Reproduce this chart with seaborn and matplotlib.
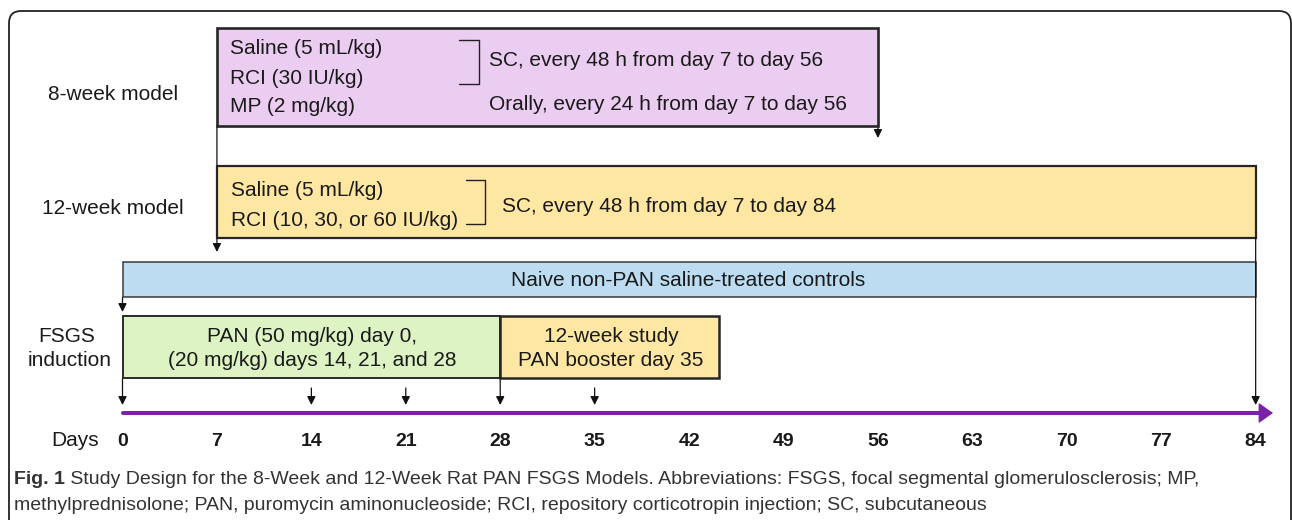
import matplotlib
matplotlib.use('Agg')
import numpy as np
import pandas as pd
import matplotlib.pyplot as plt
import seaborn as sns
from matplotlib.patches import FancyBboxPatch

# --- data ---
phases = ['8-week model', '12-week model', 'Naive controls', 'PAN induction', '12-week booster']
phase_start = [7, 7, 0, 0, 28]
phase_end = [56, 84, 84, 28, 44.2]

dose_days = [0, 14, 21, 28, 35]
dose_long = [True, False, False, True, False]
tick_days = [0, 7, 14, 21, 28, 35, 42, 49, 56, 63, 70, 77, 84]

box_lines = {
    '8-week model': ['Saline (5 mL/kg)', 'RCI (30 IU/kg)', 'MP (2 mg/kg)'],
    '12-week model': ['Saline (5 mL/kg)', 'RCI (10, 30, or 60 IU/kg)'],
}
route_8w = ['SC, every 48 h from day 7 to day 56', 'Orally, every 24 h from day 7 to day 56']
route_12w = 'SC, every 48 h from day 7 to day 84'
controls_label = 'Naive non-PAN saline-treated controls'
pan_label = ['PAN (50 mg/kg) day 0,', '(20 mg/kg) days 14, 21, and 28']
booster_label = ['12-week study', 'PAN booster day 35']
caption_bold = 'Fig. 1'
caption_1 = ' Study Design for the 8-Week and 12-Week Rat PAN FSGS Models. Abbreviations: FSGS, focal segmental glomerulosclerosis; MP,'
caption_2 = 'methylprednisolone; PAN, puromycin aminonucleoside; RCI, repository corticotropin injection; SC, subcutaneous'

df = pd.DataFrame({'phase': phases, 'start': phase_start, 'end': phase_end})

# --- layout (pixel rows, colours) ---
X0 = 122.5   # px of day 0
S = 13.49    # px per day


def dx(px):
    return (px - X0) / S


row_top = [28, 166, 262, 316, 316]
row_bot = [126, 238, 297, 378, 378]
fills = ['#eccdf2', '#fde7a2', '#bcdcf1', '#ddf3c3', '#fde7a2']
edge_w = [1.9, 1.6, 1.1, 1.4, 1.8]
edge_c = ['#262626', '#262626', '#3a3a3a', '#2a2a2a', '#262626']

sns.set_theme(style='white')
plt.rcParams['font.family'] = ['Liberation Sans', 'DejaVu Sans']
txt = '#1a1a1a'
FS = 15

fig = plt.figure(figsize=(12.92, 5.2), dpi=100)
ax = fig.add_axes([0, 0, 1, 1])
ax.set_xlim(dx(0), dx(1292))
ax.set_ylim(520, 0)
ax.axis('off')

# outer frame
frame = FancyBboxPatch((dx(9), 11), dx(1291) - dx(9), 560,
                       boxstyle='round,pad=0,rounding_size=0.9', mutation_aspect=S,
                       fc='none', ec='#222222', lw=1.3)
ax.add_patch(frame)

# boxes
for i, r in df.iterrows():
    ax.barh((row_top[i] + row_bot[i]) / 2, r['end'] - r['start'], left=r['start'],
            height=row_bot[i] - row_top[i], color=fills[i], edgecolor=edge_c[i],
            linewidth=edge_w[i], zorder=3)


def arrow(day, y0, y1, z=2):
    ax.annotate('', xy=(day, y1), xytext=(day, y0), zorder=z,
                arrowprops=dict(arrowstyle='-|>,head_length=0.5,head_width=0.25',
                                mutation_scale=10, color='#111111', lw=0.9,
                                shrinkA=0, shrinkB=0))


arrow(7, 126, 252, z=1)
arrow(56, 126, 138)
arrow(84, 238, 405, z=4)
arrow(0, 297, 312)
for d, lg in zip(dose_days, dose_long):
    arrow(d, 378 if lg else 388, 405)

# timeline
sns.lineplot(x=[0, dx(1262)], y=[413, 413], color='#7b22a8', linewidth=2.9, ax=ax)
ax.annotate('', xy=(dx(1273), 413), xytext=(dx(1255), 413),
            arrowprops=dict(arrowstyle='-|>,head_length=0.45,head_width=0.32',
                            mutation_scale=20, color='#7b22a8', lw=1, shrinkA=0, shrinkB=0))

# texts in 8-week box
for t, y in zip(box_lines['8-week model'], [48, 78, 106]):
    ax.text(dx(230), y, t, fontsize=FS, va='center', ha='left', color=txt, zorder=5)
ax.plot([dx(459), dx(479), dx(479), dx(459)], [40, 40, 84, 84], color='#222222', lw=1.0, zorder=5)
ax.text(dx(489), 60, route_8w[0], fontsize=FS, va='center', ha='left', color=txt, zorder=5)
ax.text(dx(489), 104, route_8w[1], fontsize=FS, va='center', ha='left', color=txt, zorder=5)
ax.text(dx(113), 94, '8-week model', fontsize=FS, va='center', ha='center', color=txt)

# texts in 12-week box
for t, y in zip(box_lines['12-week model'], [190, 220]):
    ax.text(dx(231), y, t, fontsize=FS, va='center', ha='left', color=txt, zorder=5)
ax.plot([dx(466), dx(485), dx(485), dx(466)], [180, 180, 224, 224], color='#222222', lw=1.0, zorder=5)
ax.text(dx(502), 206, route_12w, fontsize=FS, va='center', ha='left', color=txt, zorder=5)
ax.text(dx(113), 208, '12-week model', fontsize=FS, va='center', ha='center', color=txt)

# controls
ax.text(dx(688), 281, controls_label, fontsize=FS, va='center', ha='center', color=txt, zorder=5)

# induction
for t, y in zip(pan_label, [337, 361]):
    ax.text(dx(312), y, t, fontsize=FS, va='center', ha='center', color=txt, zorder=5)
for t, y in zip(booster_label, [337, 361]):
    ax.text(dx(611), y, t, fontsize=FS, va='center', ha='center', color=txt, zorder=5)
ax.text(dx(67), 336, 'FSGS', fontsize=FS, va='center', ha='center', color=txt)
ax.text(dx(70), 361, 'induction', fontsize=FS, va='center', ha='center', color=txt)

# day labels
ax.text(dx(75), 441, 'Days', fontsize=FS, va='center', ha='center', color=txt)
for d in tick_days:
    ax.text(d, 441, str(d), fontsize=14, fontweight='bold', va='center', ha='center', color=txt)

# caption
cap = '#333333'
CFS = 14.0
t1 = ax.text(dx(14), 480, caption_bold, fontsize=CFS, fontweight='bold', va='center', ha='left', color=cap)
ax.annotate(caption_1, xy=(1, 0), xycoords=t1, va='bottom', ha='left', fontsize=CFS, color=cap)
ax.text(dx(14), 505, caption_2, fontsize=CFS, va='center', ha='left', color=cap)

fig.savefig('out.png', dpi=100)
